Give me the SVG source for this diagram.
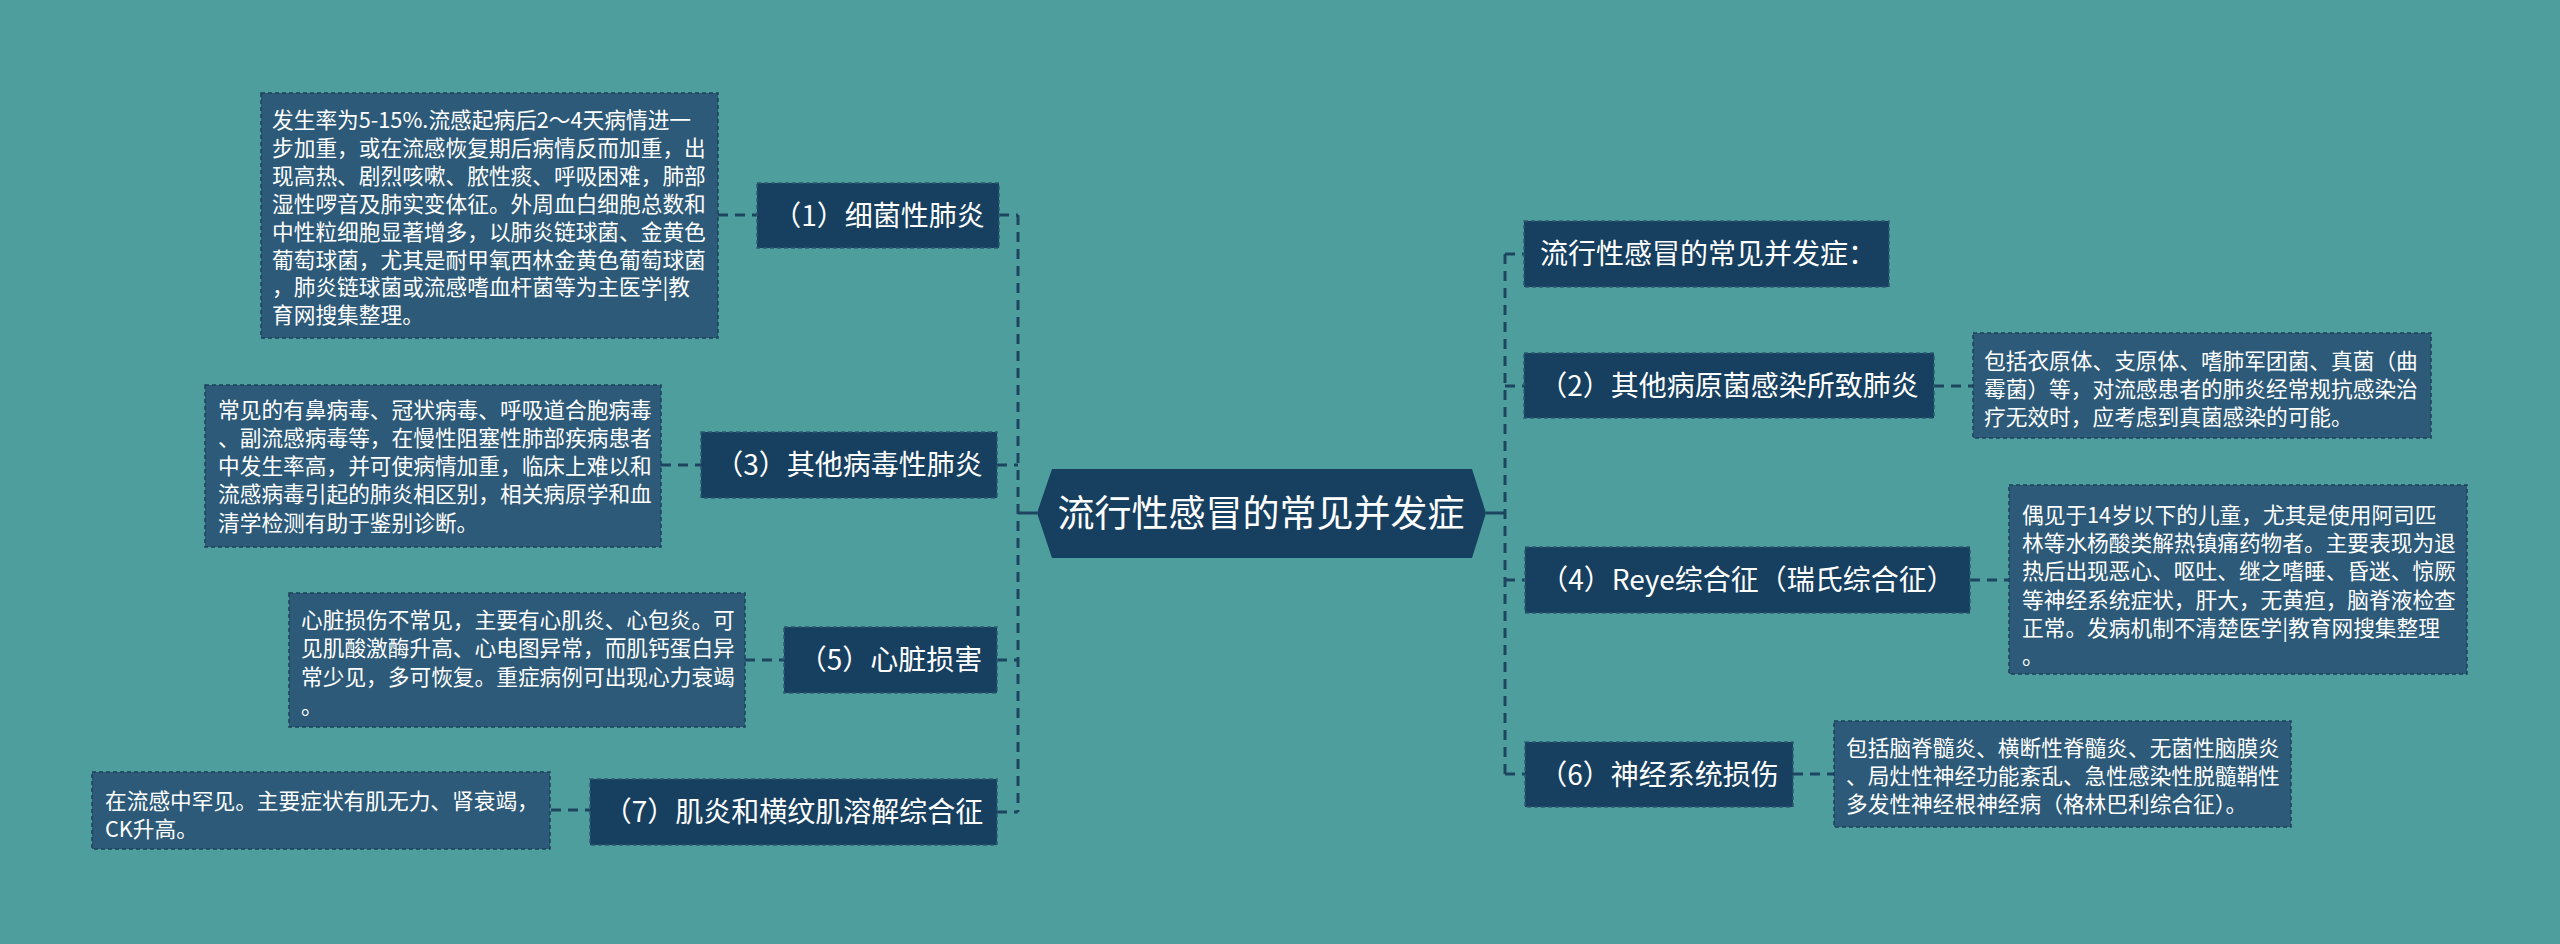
<svg xmlns="http://www.w3.org/2000/svg" width="2560" height="944" viewBox="0 0 2560 944">
<style>
.bg{fill:#4e9e9d}
.node{fill:#173f5f;stroke:#2c5a72;stroke-width:1.5;stroke-dasharray:4 3}
.detail{fill:#2d5a78;stroke:#1c4058;stroke-width:1.5;stroke-dasharray:4 3}
.nt{font-family:"Noto Sans CJK SC","Microsoft YaHei",sans-serif;font-size:28px;fill:#ffffff;text-anchor:middle}
.dt{font-family:"Noto Sans CJK SC","Microsoft YaHei",sans-serif;font-size:21.7px;fill:#ffffff}
.ct{font-family:"Noto Sans CJK SC","Microsoft YaHei",sans-serif;font-size:37px;fill:#ffffff;text-anchor:middle}
.cd{fill:none;stroke:#1d4560;stroke-width:3;stroke-dasharray:10 7}
.cs{fill:none;stroke:#1d4560;stroke-width:3}
</style>
<rect class="bg" x="0" y="0" width="2560" height="944"/>
<g id="connectors">
<path class="cs" d="M1018,513 H1037"/>
<path class="cs" d="M1486,513 H1505"/>
<path class="cd" d="M1018,215 V812"/>
<path class="cd" d="M999,215 H1018"/>
<path class="cd" d="M997,465 H1018"/>
<path class="cd" d="M997,660 H1018"/>
<path class="cd" d="M997,812 H1018"/>
<path class="cd" d="M718,215 H757"/>
<path class="cd" d="M661,465 H701"/>
<path class="cd" d="M745,660 H784"/>
<path class="cd" d="M551,810 H590"/>
<path class="cd" d="M1505,254 V774"/>
<path class="cd" d="M1505,254 H1524"/>
<path class="cd" d="M1505,386 H1524"/>
<path class="cd" d="M1505,580 H1525"/>
<path class="cd" d="M1505,774 H1525"/>
<path class="cd" d="M1934,386 H1973"/>
<path class="cd" d="M1970,580 H2009"/>
<path class="cd" d="M1793,774 H1834"/>
</g>
<g id="center">
<polygon points="1037,513 1052,469 1472,469 1486,513 1472,558 1052,558" fill="#173f5f"/>
<text class="ct" x="1261" y="527">流行性感冒的常见并发症</text>
</g>
<g id="n1">
<rect class="node" x="757" y="183" width="242" height="65"/>
<text class="nt" x="879" y="225.5">（1）细菌性肺炎</text>
</g>
<g id="d1">
<rect class="detail" x="261" y="93" width="457" height="245"/>
<text class="dt" x="272" y="128">发生率为5-15%.流感起病后2～4天病情进一</text>
<text class="dt" x="272" y="156">步加重，或在流感恢复期后病情反而加重，出</text>
<text class="dt" x="272" y="184">现高热、剧烈咳嗽、脓性痰、呼吸困难，肺部</text>
<text class="dt" x="272" y="212">湿性啰音及肺实变体征。外周血白细胞总数和</text>
<text class="dt" x="272" y="240">中性粒细胞显著增多，以肺炎链球菌、金黄色</text>
<text class="dt" x="272" y="268">葡萄球菌，尤其是耐甲氧西林金黄色葡萄球菌</text>
<text class="dt" x="272" y="295">，肺炎链球菌或流感嗜血杆菌等为主医学|教</text>
<text class="dt" x="272" y="323">育网搜集整理。</text>
</g>
<g id="n3">
<rect class="node" x="701" y="432" width="296" height="66"/>
<text class="nt" x="849" y="475">（3）其他病毒性肺炎</text>
</g>
<g id="d3">
<rect class="detail" x="205" y="385" width="456" height="162"/>
<text class="dt" x="218" y="418">常见的有鼻病毒、冠状病毒、呼吸道合胞病毒</text>
<text class="dt" x="218" y="446">、副流感病毒等，在慢性阻塞性肺部疾病患者</text>
<text class="dt" x="218" y="474">中发生率高，并可使病情加重，临床上难以和</text>
<text class="dt" x="218" y="502">流感病毒引起的肺炎相区别，相关病原学和血</text>
<text class="dt" x="218" y="531">清学检测有助于鉴别诊断。</text>
</g>
<g id="n5">
<rect class="node" x="784" y="627" width="213" height="66"/>
<text class="nt" x="890.5" y="670">（5）心脏损害</text>
</g>
<g id="d5">
<rect class="detail" x="289" y="593" width="456" height="134"/>
<text class="dt" x="301" y="628">心脏损伤不常见，主要有心肌炎、心包炎。可</text>
<text class="dt" x="301" y="656">见肌酸激酶升高、心电图异常，而肌钙蛋白异</text>
<text class="dt" x="301" y="685">常少见，多可恢复。重症病例可出现心力衰竭</text>
<text class="dt" x="301" y="714">。</text>
</g>
<g id="n7">
<rect class="node" x="590" y="779" width="407" height="66"/>
<text class="nt" x="793.5" y="822">（7）肌炎和横纹肌溶解综合征</text>
</g>
<g id="d7">
<rect class="detail" x="92" y="772" width="458" height="77"/>
<text class="dt" x="105" y="809">在流感中罕见。主要症状有肌无力、肾衰竭，</text>
<text class="dt" x="105" y="837">CK升高。</text>
</g>
<g id="n0">
<rect class="node" x="1524" y="221" width="365" height="66"/>
<text class="nt" x="1708" y="264">流行性感冒的常见并发症：</text>
</g>
<g id="n2">
<rect class="node" x="1524" y="353" width="410" height="65"/>
<text class="nt" x="1729" y="396">（2）其他病原菌感染所致肺炎</text>
</g>
<g id="d2">
<rect class="detail" x="1973" y="333" width="458" height="105"/>
<text class="dt" x="1984" y="369">包括衣原体、支原体、嗜肺军团菌、真菌（曲</text>
<text class="dt" x="1984" y="397">霉菌）等，对流感患者的肺炎经常规抗感染治</text>
<text class="dt" x="1984" y="425">疗无效时，应考虑到真菌感染的可能。</text>
</g>
<g id="n4">
<rect class="node" x="1525" y="547" width="445" height="66"/>
<text class="nt" x="1747.5" y="590">（4）Reye综合征（瑞氏综合征）</text>
</g>
<g id="d4">
<rect class="detail" x="2009" y="485" width="458" height="189"/>
<text class="dt" x="2022" y="523">偶见于14岁以下的儿童，尤其是使用阿司匹</text>
<text class="dt" x="2022" y="551">林等水杨酸类解热镇痛药物者。主要表现为退</text>
<text class="dt" x="2022" y="579">热后出现恶心、呕吐、继之嗜睡、昏迷、惊厥</text>
<text class="dt" x="2022" y="608">等神经系统症状，肝大，无黄疸，脑脊液检查</text>
<text class="dt" x="2022" y="636">正常。发病机制不清楚医学|教育网搜集整理</text>
<text class="dt" x="2022" y="664">。</text>
</g>
<g id="n6">
<rect class="node" x="1525" y="742" width="268" height="65"/>
<text class="nt" x="1659" y="784.5">（6）神经系统损伤</text>
</g>
<g id="d6">
<rect class="detail" x="1834" y="721" width="457" height="106"/>
<text class="dt" x="1846" y="756">包括脑脊髓炎、横断性脊髓炎、无菌性脑膜炎</text>
<text class="dt" x="1846" y="784">、局灶性神经功能紊乱、急性感染性脱髓鞘性</text>
<text class="dt" x="1846" y="812">多发性神经根神经病（格林巴利综合征）。</text>
</g>
</svg>
